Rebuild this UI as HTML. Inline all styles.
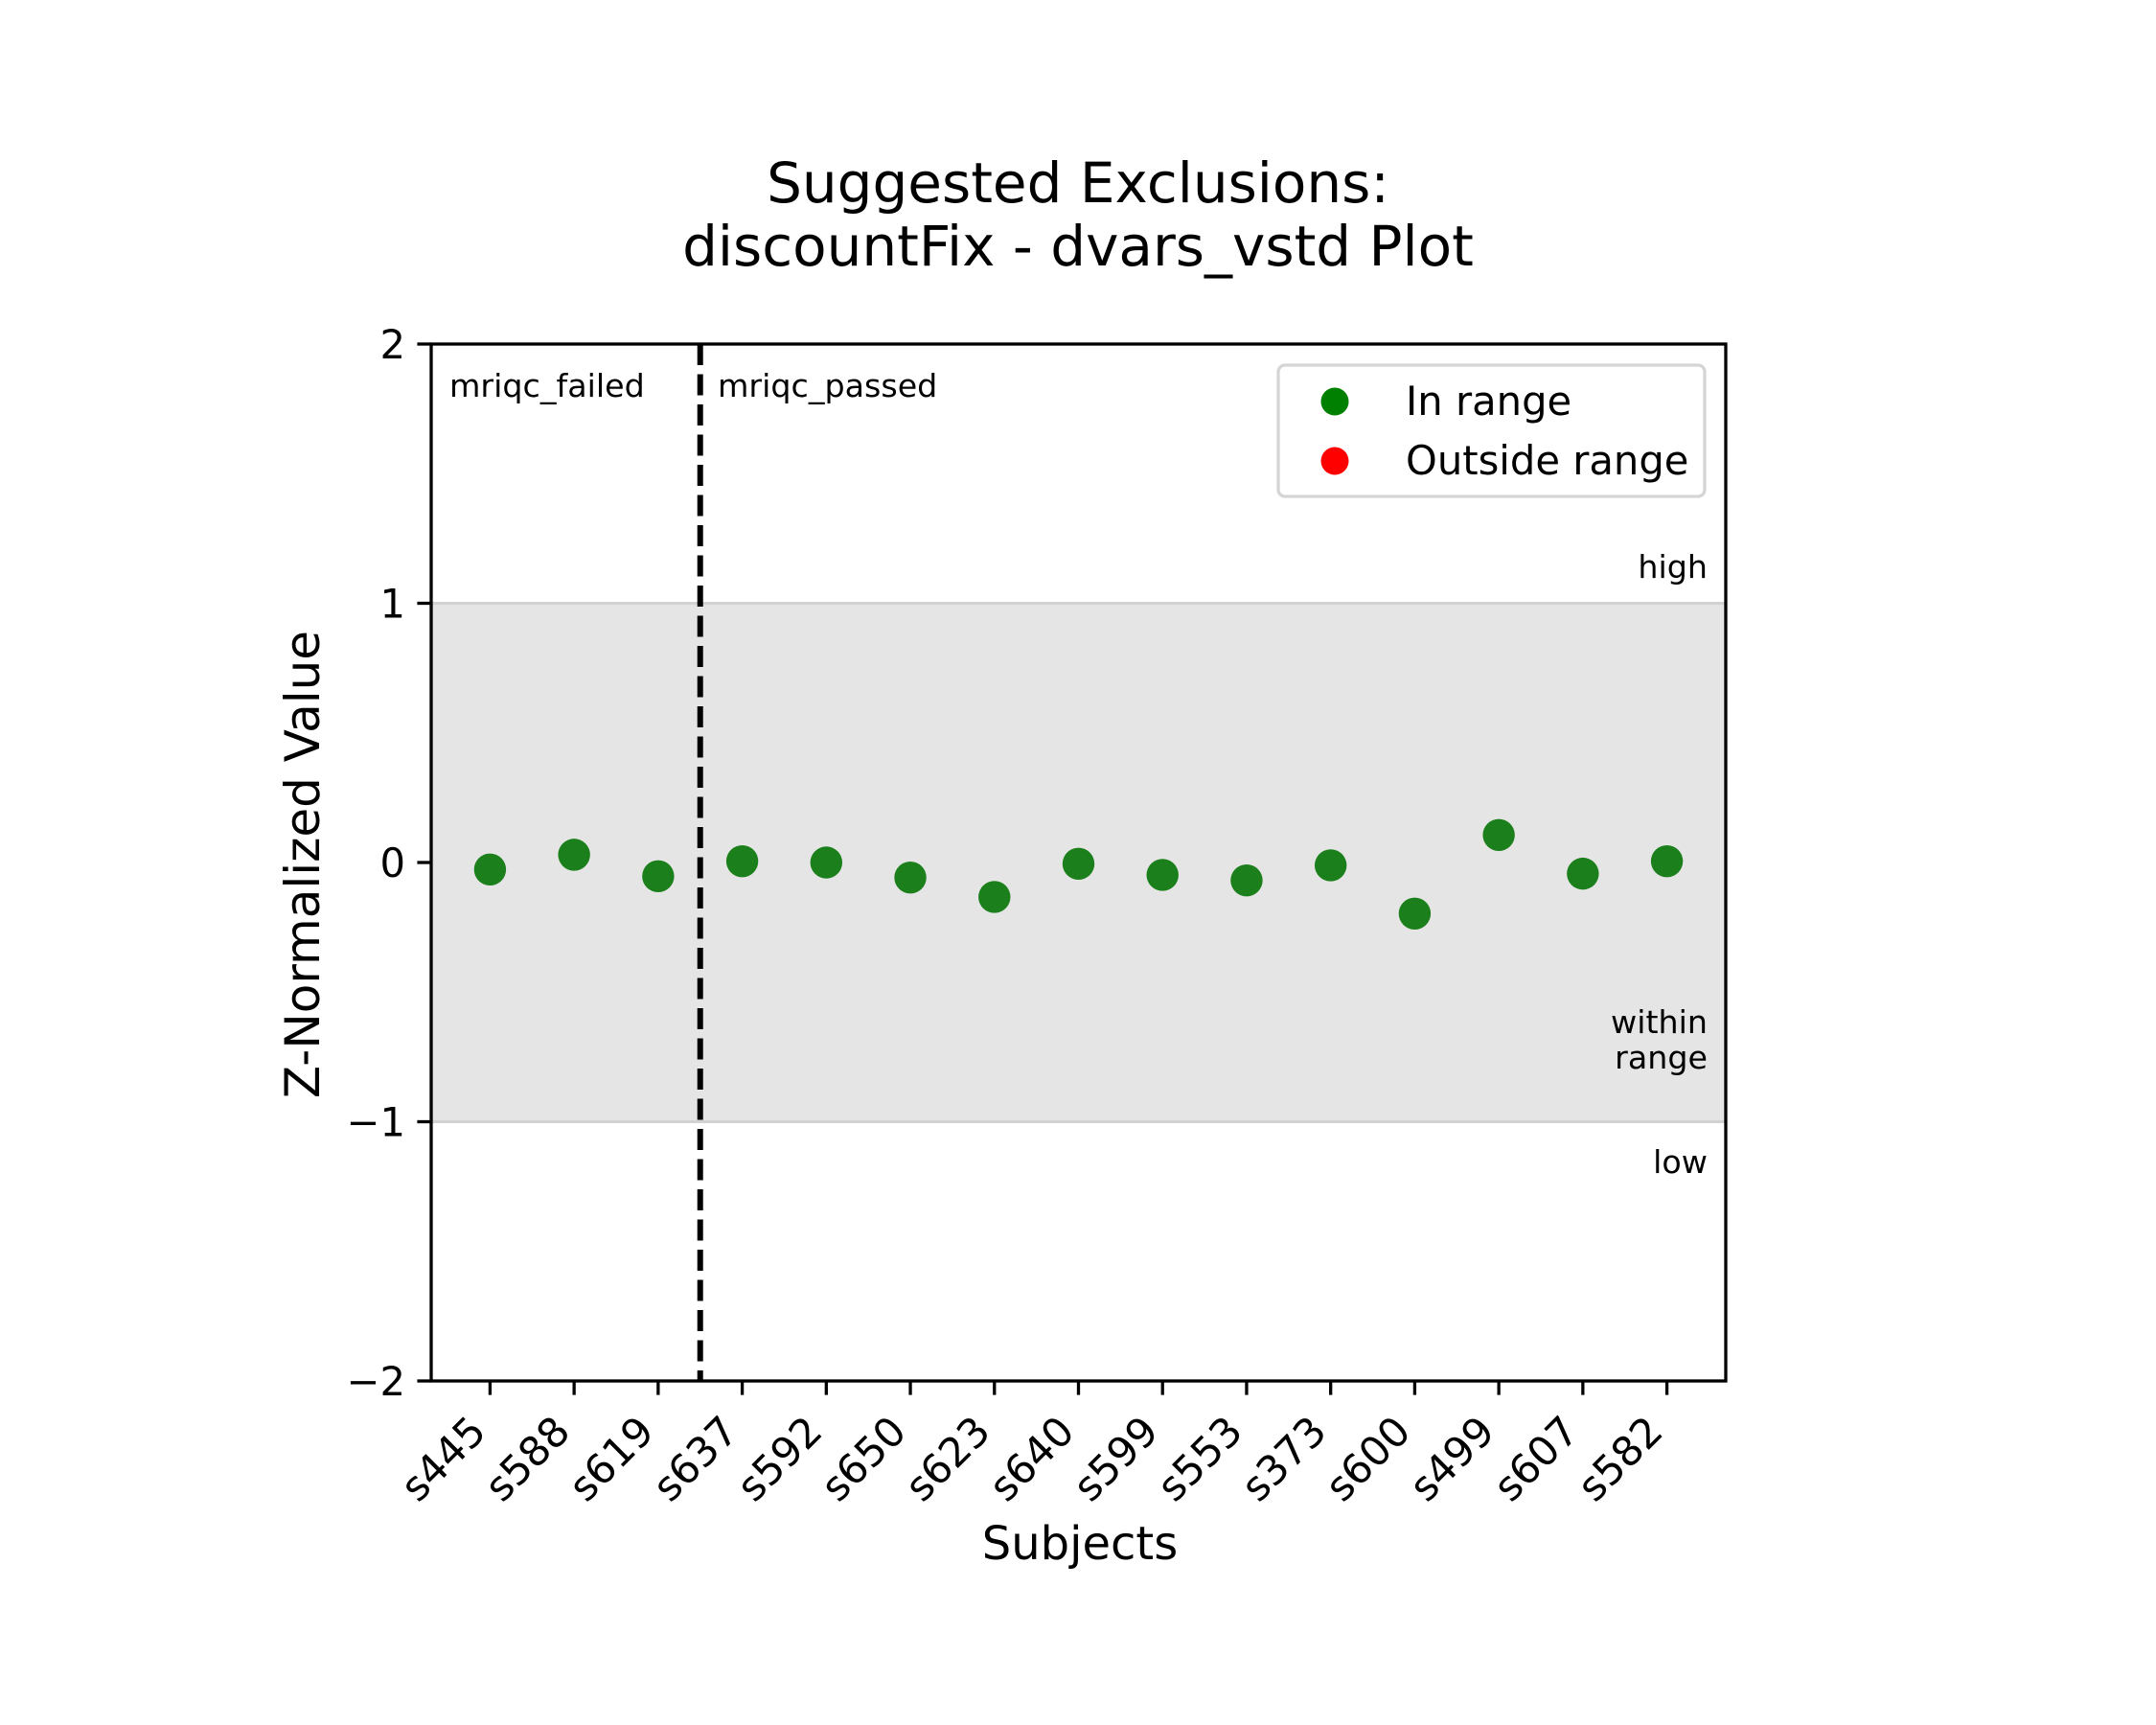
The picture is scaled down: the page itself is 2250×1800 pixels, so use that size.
<!DOCTYPE html>
<html><head><meta charset="utf-8"><style>
html,body{margin:0;padding:0;background:#fff;}
svg{display:block;font-family:"DejaVu Sans","Liberation Sans",sans-serif;}
</style></head><body>
<svg id="chart" width="2250" height="1800" viewBox="0 0 2250 1800" xmlns="http://www.w3.org/2000/svg">
<rect width="2250" height="1800" fill="#fff"/>
<g id="title">
<text x="1125" y="211" font-size="58" text-anchor="middle">Suggested Exclusions:</text>
<text x="1125" y="277" font-size="58" text-anchor="middle">discountFix - dvars_vstd Plot</text>
</g>
<g id="plot"></g>
</svg>
<script>
const subjects = ["s445","s588","s619","s637","s592","s650","s623","s640","s599","s553","s373","s600","s499","s607","s582"];
const values = [-0.027,0.03,-0.053,0.005,0.0,-0.058,-0.133,-0.005,-0.048,-0.069,-0.011,-0.197,0.106,-0.043,0.005];
const yTicks = [2,1,0,-1,-2];
const yTickLabels = ["2","1","0","\u22121","\u22122"];
const bandRange = [-1,1];
const failedCount = 3;

const NS = "http://www.w3.org/2000/svg";
const L = 450, R = 1801, T = 359, B = 1441;
const xMin = -0.7, xMax = subjects.length - 0.3, yMin = -2, yMax = 2;
const xs = i => L + (i - xMin) / (xMax - xMin) * (R - L);
const ys = v => B - (v - yMin) / (yMax - yMin) * (B - T);
const g = document.getElementById("plot");
function mk(tag, attrs, parent) {
  const e = document.createElementNS(NS, tag);
  for (const k in attrs) e.setAttribute(k, attrs[k]);
  (parent || g).appendChild(e);
  return e;
}
let e = mk("rect", {x: L, y: ys(bandRange[1]), width: R - L, height: ys(bandRange[0]) - ys(bandRange[1]), fill: "#e5e5e5"});


for (const v of bandRange) {
  e = mk("line", {x1: L, x2: R, y1: ys(v), y2: ys(v), stroke: "#d2d2d2", "stroke-width": 3});
  
  
}
e = mk("line", {x1: xs(failedCount - 0.5), x2: xs(failedCount - 0.5), y1: T, y2: B, stroke: "#000", "stroke-width": 6, "stroke-dasharray": "22 9.5"});


subjects.forEach((s, i) => {
  const c = mk("ellipse", {cx: xs(i), cy: ys(values[i]), rx: 16.7, ry: 16.7, fill: "#1b7f1b"});
  
  
});
e = mk("rect", {x: L, y: T, width: R - L, height: B - T, fill: "none", stroke: "#000", "stroke-width": 3.3});


yTicks.forEach((v, i) => {
  const t = mk("line", {x1: L - 14.6, x2: L, y1: ys(v), y2: ys(v), stroke: "#000", "stroke-width": 3.3});
  
  
  const tx = mk("text", {x: L - 27, y: ys(v) + 15, "font-size": 41.7, "text-anchor": "end"});
  tx.textContent = yTickLabels[i];
  
  
});
subjects.forEach((s, i) => {
  const x = xs(i);
  const t = mk("line", {x1: x, x2: x, y1: B, y2: B + 14.6, stroke: "#000", "stroke-width": 3.3});
  
  
  const bx = x - 2, by = 1496;
  const tx = mk("text", {x: bx, y: by, "font-size": 42.5, "text-anchor": "end", transform: "rotate(-45 " + bx + " " + by + ")"});
  tx.textContent = s;
  
  
});
e = mk("text", {x: 1127, y: 1627, "font-size": 48, "text-anchor": "middle"});
e.textContent = "Subjects";


e = mk("text", {x: 333, y: 902, "font-size": 50, "text-anchor": "middle", transform: "rotate(-90 333 902)"});
e.textContent = "Z-Normalized Value";


const ann = [["mriqc_failed", 469, 414, "start", "group-label-failed"], ["mriqc_passed", 749, 414, "start", "group-label-passed"], ["high", 1782, 603, "end", "region-label-high"], ["within", 1782, 1078, "end", "region-label-within"], ["range", 1782, 1115, "end", "region-label-range"], ["low", 1782, 1224, "end", "region-label-low"]];
for (const a of ann) {
  const tx = mk("text", {x: a[1], y: a[2], "font-size": 33.3, "text-anchor": a[3]});
  tx.textContent = a[0];
  
  
}
const lg = mk("g", {});


e = mk("rect", {x: 1334, y: 381, width: 445, height: 137, rx: 7, fill: "#fff", stroke: "#d5d5d5", "stroke-width": 3.3}, lg);


const legItems = [["In range", "#008000", 419, "legend-entry-in-range"], ["Outside range", "#ff0000", 481, "legend-entry-outside-range"]];
for (const it of legItems) {
  const gg = mk("g", {}, lg);
  
  
  mk("circle", {cx: 1393, cy: it[2], r: 14.5, fill: it[1]}, gg);
  const tx = mk("text", {x: 1467, y: it[2] + 14, "font-size": 41.7}, gg);
  tx.textContent = it[0];
}
</script>
</body></html>
